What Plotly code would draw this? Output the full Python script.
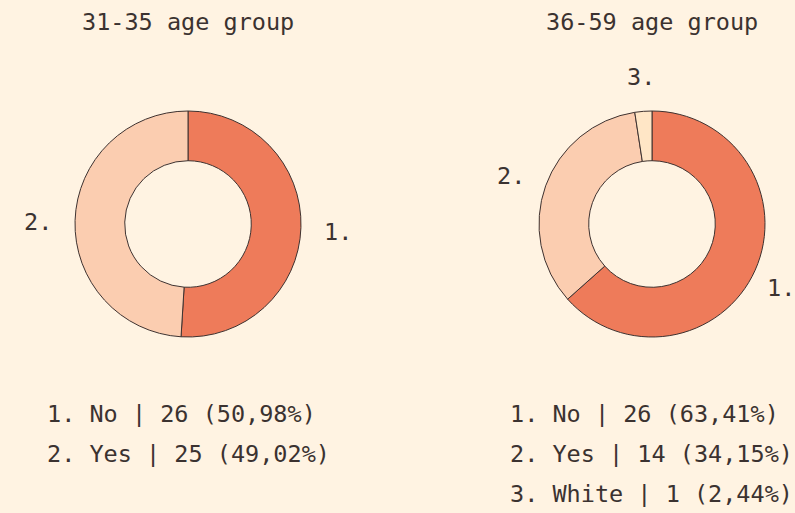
import math
import plotly.graph_objects as go

# ---- data ----
groups = ["31-35 age group", "36-59 age group"]
labels_left = ["No", "Yes"]
values_left = [26, 25]
labels_right = ["No", "Yes", "White"]
values_right = [26, 14, 1]
slice_colors = ["#EE7B5A", "#FBCDB0", "#FFE6C6"]

BG = "#FFF3E2"
TXT = "#3B3230"
FONT = "DejaVu Sans Mono, monospace"
FS = 23.5
W, H = 795, 513

fig = go.Figure()

pies = [
    dict(title=groups[0], labels=labels_left, values=values_left, cx=188, cy=224, legend_x=45),
    dict(title=groups[1], labels=labels_right, values=values_right, cx=652, cy=224, legend_x=508),
]
R = 113  # outer radius, px
LABEL_R = 150

annotations = []
for p in pies:
    cx, cy = p["cx"], p["cy"]
    fig.add_trace(go.Pie(
        labels=[f"{i+1}." for i in range(len(p["labels"]))],
        values=p["values"],
        hole=0.56,
        sort=False,
        direction="clockwise",
        rotation=0,
        textinfo="none",
        hoverinfo="label+value+percent",
        marker=dict(colors=slice_colors[:len(p["values"])], line=dict(color="#3E3230", width=1)),
        domain=dict(x=[(cx - R) / W, (cx + R) / W], y=[1 - (cy + R) / H, 1 - (cy - R) / H]),
        showlegend=False,
    ))
    annotations.append(dict(text=p["title"], x=cx / W, y=1 - 22 / H, xref="paper", yref="paper",
                            xanchor="center", yanchor="middle", showarrow=False,
                            font=dict(family=FONT, size=FS, color=TXT)))
    total = sum(p["values"])
    cum = 0
    for i, v in enumerate(p["values"]):
        mid = (cum + v / 2) / total
        cum += v
        ang = 2 * math.pi * mid
        lx = cx + LABEL_R * math.sin(ang)
        ly = cy - LABEL_R * math.cos(ang) + 3
        lx = max(14, min(lx, W - 14))  # keep the label inside the page
        annotations.append(dict(text=f"{i+1}.", x=lx / W, y=1 - ly / H, xref="paper", yref="paper",
                                xanchor="center", yanchor="middle", showarrow=False,
                                font=dict(family=FONT, size=FS, color=TXT)))
        pct = f"{100 * v / total:.2f}".replace(".", ",")
        annotations.append(dict(text=f"{i+1}. {p['labels'][i]} | {v} ({pct}%)",
                                x=p["legend_x"] / W, y=1 - (414 + 40 * i) / H,
                                xref="paper", yref="paper", xanchor="left", yanchor="middle",
                                showarrow=False, font=dict(family=FONT, size=FS, color=TXT)))

fig.update_layout(
    width=W, height=H,
    margin=dict(l=0, r=0, t=0, b=0),
    paper_bgcolor=BG, plot_bgcolor=BG,
    annotations=annotations,
)

fig.write_html(
    "out.html",
    config={"displayModeBar": False},
    post_script="document.body.style.margin='0';document.body.style.background='" + BG + "';document.body.style.overflow='hidden';",
)
